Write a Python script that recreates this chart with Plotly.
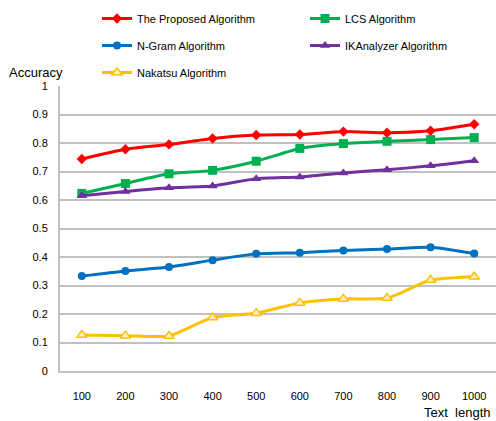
import plotly.graph_objects as go

# Text length categories on the x axis
text_lengths = ["100", "200", "300", "400", "500", "600", "700", "800", "900", "1000"]

# Accuracy of each algorithm per text length
proposed = [0.744, 0.778, 0.795, 0.816, 0.828, 0.830, 0.840, 0.836, 0.843, 0.866]
lcs = [0.623, 0.658, 0.692, 0.704, 0.736, 0.781, 0.798, 0.806, 0.812, 0.819]
ngram = [0.333, 0.351, 0.365, 0.389, 0.411, 0.415, 0.423, 0.428, 0.434, 0.412]
ikanalyzer = [0.615, 0.630, 0.643, 0.649, 0.675, 0.681, 0.695, 0.706, 0.720, 0.738]
nakatsu = [0.126, 0.124, 0.123, 0.188, 0.203, 0.239, 0.253, 0.256, 0.319, 0.331]

y_ticks = [0, 0.1, 0.2, 0.3, 0.4, 0.5, 0.6, 0.7, 0.8, 0.9, 1]

FONT = "Liberation Sans, Arial, sans-serif"

# (name, values, colour, marker, legend column)
series = [
    ("The Proposed Algorithm", proposed, "#FF0000", dict(symbol="diamond", size=8, color="#FF0000"), "legend"),
    ("LCS Algorithm", lcs, "#00B050", dict(symbol="square", size=9, color="#00B050"), "legend2"),
    ("N-Gram Algorithm", ngram, "#0070C0", dict(symbol="circle", size=8, color="#0070C0"), "legend"),
    ("IKAnalyzer Algorithm", ikanalyzer, "#7030A0", dict(symbol="triangle-up", size=9, color="#7030A0"), "legend2"),
    ("Nakatsu Algorithm", nakatsu, "#FFC000",
     dict(symbol="triangle-up", size=9, color="#FFF2CC", line=dict(color="#FFC000", width=1.5)), "legend"),
]

fig = go.Figure()
for name, values, color, marker, legend_id in series:
    fig.add_trace(go.Scatter(
        x=text_lengths, y=values, name=name, mode="lines+markers",
        line=dict(color=color, width=3, shape="spline", smoothing=0.6),
        marker=marker, legend=legend_id, legendgroup=name,
    ))

plot_w, plot_h = 496 - 60, 421 - 86 - 50

legend_common = dict(
    orientation="v", yref="container", y=1 - 4 / 421, yanchor="top", xanchor="left",
    tracegroupgap=8, font=dict(family=FONT, size=11, color="#000000"),
    bgcolor="rgba(0,0,0,0)",
)

fig.update_layout(
    width=496, height=421,
    margin=dict(l=60, r=0, t=86, b=50, autoexpand=False),
    paper_bgcolor="white", plot_bgcolor="white",
    font=dict(family=FONT, size=11, color="#000000"),
    legend=dict(x=(97 - 60) / plot_w, **legend_common),
    legend2=dict(x=(305 - 60) / plot_w, **legend_common),
    xaxis=dict(
        type="category", showgrid=False, showline=True, linecolor="#BFBFBF", linewidth=2,
        ticks="", ticklabelstandoff=14, tickfont=dict(size=11), range=[-0.5, 9.5],
    ),
    yaxis=dict(
        range=[0, 1], tickvals=y_ticks, ticktext=[f"{v:g}" for v in y_ticks],
        showgrid=True, gridcolor="#C0C0C0", gridwidth=1.5,
        showline=True, linecolor="#BFBFBF", linewidth=2, zeroline=False,
        ticks="", ticklabelstandoff=8, tickfont=dict(size=11),
    ),
    annotations=[
        dict(text="Accuracy", xref="paper", yref="paper", showarrow=False,
             x=(36 - 60) / plot_w, y=(371 - 72) / plot_h, xanchor="center", yanchor="middle",
             font=dict(size=13)),
        dict(text="Text  length", xref="paper", yref="paper", showarrow=False,
             x=(457 - 60) / plot_w, y=(371 - 412) / plot_h, xanchor="center", yanchor="middle",
             font=dict(size=13)),
    ],
)

fig.write_html("out.html")
